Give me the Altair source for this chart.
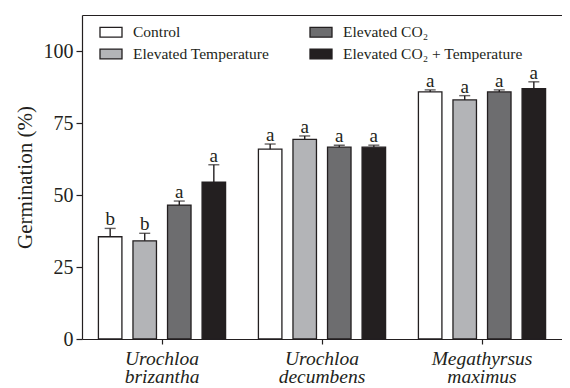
import altair as alt
import pandas as pd

species = ["Urochloa brizantha", "Urochloa decumbens", "Megathyrsus maximus"]
treatments = ["Control", "Elevated Temperature", "Elevated CO₂", "Elevated CO₂ + Temperature"]
colors = ["#ffffff", "#b3b4b7", "#6d6d6f", "#231f20"]
germination = [
    [35.5, 34.1, 46.5, 54.5],
    [65.9, 69.3, 66.6, 66.6],
    [85.8, 83.0, 85.8, 86.9],
]
errors = [
    [2.9, 2.6, 1.4, 6.0],
    [1.8, 1.2, 0.7, 0.7],
    [0.7, 1.5, 0.7, 2.4],
]
letters = [
    ["b", "b", "a", "a"],
    ["a", "a", "a", "a"],
    ["a", "a", "a", "a"],
]
y_ticks = [0, 25, 50, 75, 100]

rows = []
for i, sp in enumerate(species):
    for j, tr in enumerate(treatments):
        rows.append({
            "species": sp,
            "treatment": tr,
            "germ": germination[i][j],
            "top": germination[i][j] + errors[i][j],
            "letter": letters[i][j],
        })
df = pd.DataFrame(rows)

FONT = "Liberation Serif"
INK = "#231f20"

x_scale = alt.Scale(domain=species, paddingInner=0, paddingOuter=0)
off_scale = alt.Scale(domain=treatments, paddingInner=0.32, paddingOuter=0.475)
y_scale = alt.Scale(domain=[0, 112.5], nice=False, zero=True)
y_axis = alt.Axis(
    title="Germination (%)", values=y_ticks, grid=False,
    tickSize=6, labelPadding=3, labelFontSize=20, labelFont=FONT, labelColor=INK,
    titleFontSize=21, titleFont=FONT, titleFontWeight="normal", titleColor=INK,
    titleX=-51, titleY=162, titleBaseline="alphabetic",
)

x_bottom = alt.X(
    "species:N", scale=x_scale, sort=species,
    axis=alt.Axis(
        title=None, labelAngle=0, tickSize=5, labelPadding=5,
        labelFont=FONT, labelFontSize=19.5, labelFontStyle="italic", labelColor=INK,
        labelLineHeight=18.5, labelExpr="split(datum.label, ' ')",
        domainColor=INK, tickColor=INK,
    ),
)
x_top = alt.X(
    "species:N", scale=x_scale, sort=species,
    axis=alt.Axis(orient="top", title=None, labels=False, ticks=False,
                  domainColor=INK, domainWidth=1.2),
)
x_none = alt.X("species:N", scale=x_scale, sort=species, axis=None)
xoff = alt.XOffset("treatment:N", scale=off_scale, sort=treatments)

base = alt.Chart(df)

bars = base.mark_bar(stroke=INK, strokeWidth=1.3).encode(
    x=x_bottom,
    xOffset=xoff,
    y=alt.Y("germ:Q", scale=y_scale, axis=y_axis),
    fill=alt.Fill(
        "treatment:N",
        scale=alt.Scale(domain=treatments, range=colors),
        legend=alt.Legend(
            title=None, orient="none", legendX=17, legendY=5,
            columns=2, columnPadding=37, rowPadding=1,
            symbolType="M-1,-0.45H1V0.45H-1Z", symbolSize=484,
            symbolStrokeColor=INK, symbolStrokeWidth=1.3, labelOffset=10,
            labelFont=FONT, labelFontSize=15.5, labelColor=INK, labelLimit=300,
            padding=0,
        ),
    ),
)

stems = base.mark_rule(color=INK, strokeWidth=1.4).encode(
    x=x_none, xOffset=xoff,
    y=alt.Y("germ:Q", scale=y_scale, axis=y_axis),
    y2="top:Q",
)

caps = base.mark_tick(color=INK, thickness=1.4, size=11, orient="horizontal").encode(
    x=x_none, xOffset=xoff,
    y=alt.Y("top:Q", scale=y_scale, axis=y_axis),
)

labels = base.mark_text(font=FONT, fontSize=19, baseline="alphabetic", dy=-3, color=INK).encode(
    x=x_top, xOffset=xoff,
    y=alt.Y("top:Q", scale=y_scale, axis=y_axis),
    text="letter:N",
)

chart = alt.layer(bars, stems, caps, labels).resolve_axis(x="independent").properties(
    width=480, height=324,
    autosize=alt.AutoSizeParams(type="none"),
    padding={"left": 74, "top": 7, "right": 0, "bottom": 52},
).configure_view(strokeWidth=0).configure_axis(
    domainColor=INK, tickColor=INK, domainWidth=1.2, tickWidth=1.2,
)

chart.save("out.html", embed_options={"renderer": "svg", "actions": False})
